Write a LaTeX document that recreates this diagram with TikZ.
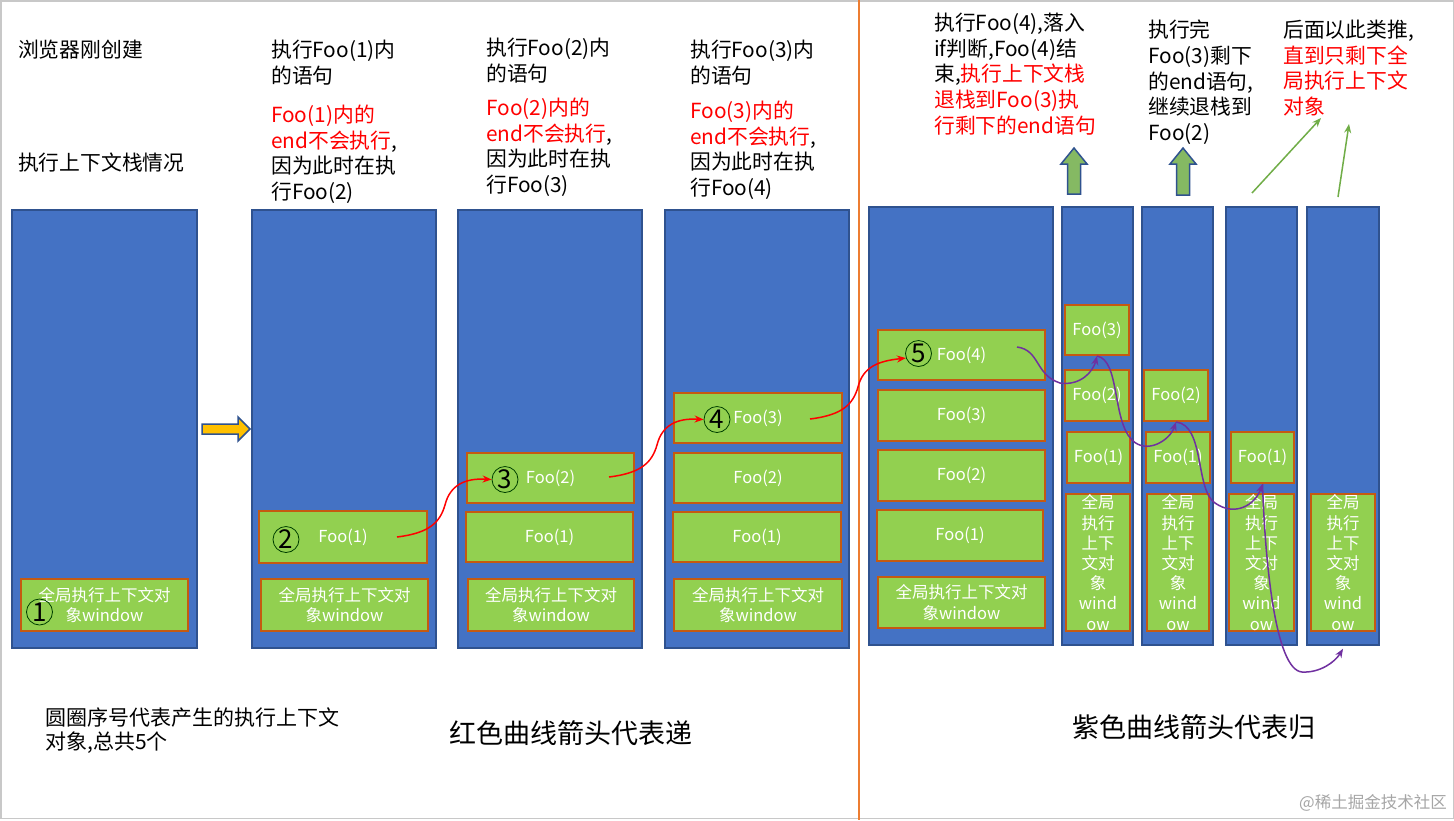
\documentclass[tikz,border=0pt]{standalone}
\usepackage{fontspec}
\setmainfont{Noto Sans CJK SC}
\usetikzlibrary{arrows.meta}
\definecolor{stackblue}{HTML}{4472C4}
\definecolor{stackedge}{HTML}{2F528F}
\definecolor{ctxgreen}{HTML}{92D050}
\definecolor{ctxedge}{HTML}{C55A11}
\definecolor{purp}{HTML}{7030A0}
\definecolor{lgreen}{HTML}{70AD47}
\definecolor{sepline}{HTML}{ED7D31}
\definecolor{gold}{HTML}{FFC000}
\definecolor{wmgray}{HTML}{A6A6A6}
\definecolor{framegray}{HTML}{C8C8C8}
\newcommand\gwide{全局执行上下文对\\象window}
\newcommand\gnarrow{全局\\执行\\上下\\文对\\象\\wind\\ow}
\begin{document}
\begin{tikzpicture}[x=1pt,y=-1pt,
  stk/.style n args={2}{draw=stackedge, fill=stackblue, line width=1.5pt, inner sep=0pt, minimum width=#1pt, minimum height=#2pt},
  ctx/.style n args={2}{draw=ctxedge, fill=ctxgreen, line width=2pt, inner sep=0pt, minimum width=#1pt, minimum height=#2pt, text=white, align=center, font=\fontsize{16.5}{20.2}\selectfont},
  num/.style={circle, draw=black!75!green, line width=0.8pt, minimum size=26pt, inner sep=0pt, font=\fontsize{26}{26}\selectfont},
  redarr/.style={draw=red, line width=1.5pt, -{Stealth[length=9pt,width=7pt]}},
  purarr/.style={draw=purp, line width=1.5pt, -{Stealth[length=9pt,width=7pt]}},
  garr/.style={draw=lgreen, line width=1.5pt, -{Stealth[length=9pt,width=7pt]}},
  blockup/.style={fill=lgreen!85!white, draw=stackedge, line width=1.5pt, line join=miter},
  lbl/.style={anchor=north west, inner sep=0pt, align=left, font=\fontsize{20.8}{25.6}\selectfont},
]
\useasboundingbox (0,0) rectangle (1454,820);
\fill[white] (0,0) rectangle (1454,820);
\draw[framegray, line width=1.5pt] (0.75,0.75) rectangle (1453.25,818.5);
\draw[sepline, line width=2.5pt] (859,0) -- (859,820);

% stacks
\node[stk={185}{438}] (s1) at (104.5,429) {};
\node[stk={184}{438}] (s2) at (344,429) {};
\node[stk={184}{438}] (s3) at (550,429) {};
\node[stk={184}{438}] (s4) at (757,429) {};
\node[stk={184}{438}] (s5) at (961,426) {};
\node[stk={71}{438}] (s6) at (1097.5,426) {};
\node[stk={71}{438}] (s7) at (1177.5,426) {};
\node[stk={71}{438}] (s8) at (1261.5,426) {};
\node[stk={72}{438}] (s9) at (1343,426) {};

% contexts
\node[ctx={167}{52}] (g1) at (104.5,605) {\gwide};
\node[ctx={168}{52}] (f21) at (343,537) {Foo(1)};
\node[ctx={167}{52}] (g2) at (344.5,605) {\gwide};
\node[ctx={167}{50}] (f32) at (550.5,478) {Foo(2)};
\node[ctx={167}{50}] (f31) at (549.5,537) {Foo(1)};
\node[ctx={166}{52}] (g3) at (551,605) {\gwide};
\node[ctx={168}{50}] (f43) at (758,418) {Foo(3)};
\node[ctx={168}{50}] (f42) at (758,478) {Foo(2)};
\node[ctx={168}{50}] (f41) at (757,537) {Foo(1)};
\node[ctx={168}{52}] (g4) at (758,605) {\gwide};
\node[ctx={167}{50}] (f54) at (961.5,355) {Foo(4)};
\node[ctx={167}{51}] (f53) at (961.5,415.5) {Foo(3)};
\node[ctx={167}{51}] (f52) at (961.5,475.5) {Foo(2)};
\node[ctx={166}{51}] (f51) at (960,535.5) {Foo(1)};
\node[ctx={167}{51}] (g5) at (961.5,602.5) {\gwide};
\node[ctx={64}{50}] (f63) at (1097,330) {Foo(3)};
\node[ctx={64}{51}] (f62) at (1097,395.5) {Foo(2)};
\node[ctx={63}{51}] (f61) at (1098.5,457.5) {Foo(1)};
\node[ctx={64}{137}] (g6) at (1098,562.5) {\gnarrow};
\node[ctx={64}{51}] (f72) at (1176,395.5) {Foo(2)};
\node[ctx={64}{51}] (f71) at (1178,457.5) {Foo(1)};
\node[ctx={62}{137}] (g7) at (1178,562.5) {\gnarrow};
\node[ctx={63}{51}] (f81) at (1262.5,457.5) {Foo(1)};
\node[ctx={65}{137}] (g8) at (1261.5,562.5) {\gnarrow};
\node[ctx={64}{137}] (g9) at (1343,562.5) {\gnarrow};

% circled numbers
\node[num] (n1) at (39.5,612) {1};
\node[num] (n2) at (286,539.5) {2};
\node[num] (n3) at (505,479.5) {3};
\node[num] (n4) at (717,419.5) {4};
\node[num] (n5) at (918.5,353.5) {5};

% red arrows
\coordinate (r1) at (397,537);
\coordinate (r2) at (609,477);
\coordinate (r3) at (810,419);
\draw[redarr] (r1) .. controls (430,533) and (440,522) .. (445,505) .. controls (450,485) and (465,478) .. (n3.west);
\draw[redarr] (r2) .. controls (642,473) and (652,462) .. (657,445) .. controls (662,425) and (677,418) .. (n4.west);
\draw[redarr] (r3) .. controls (843,415) and (853,404) .. (858,387) .. controls (863,367) and (878,361) .. (n5.200);

% purple arrows
\coordinate (p0) at (1017,347);
\draw[purarr] (p0) .. controls (1040,350) and (1035,375) .. (1060,383) .. controls (1080,386) and (1093,372) .. (f63.south);
\draw[purarr] (f63.south) .. controls (1120,360) and (1112,420) .. (1132,440) .. controls (1147,455) and (1170,440) .. (f72.south);
\draw[purarr] (f72.south) .. controls (1205,425) and (1195,490) .. (1215,503) .. controls (1235,517) and (1255,505) .. (f81.south);
\draw[purarr] (f81.south) .. controls (1265,560) and (1275,670) .. (1302,672) .. controls (1320,673) and (1335,662) .. ([yshift=-3pt]s9.south);

% thin green arrows
\coordinate (ga1) at (1252,193);
\coordinate (ga1e) at (1321,118);
\coordinate (ga2) at (1338,197);
\coordinate (ga2e) at (1349,124);
\draw[garr] (ga1) -- (ga1e);
\draw[garr] (ga2) -- (ga2e);

% block arrows
\foreach \cx/\bt in {1074/194,1183/195}{
  \draw[blockup] (\cx,148) -- (\cx+13,164) -- (\cx+6.5,164) -- (\cx+6.5,\bt) -- (\cx-6.5,\bt) -- (\cx-6.5,164) -- (\cx-13,164) -- cycle;
}
\draw[fill=gold, draw=stackedge, line width=1.5pt] (202,424) -- (238,424) -- (238,417) -- (250,429) -- (238,441) -- (238,434) -- (202,434) -- cycle;

% texts
\node[lbl] (t0a) at (18,40) {浏览器刚创建};
\node[lbl] (t0b) at (18,153) {执行上下文栈情况};
\node[lbl] (t2a) at (271,40) {执行Foo(1)内\\的语句};
\node[lbl] (t2b) at (271,105) {\textcolor{red}{Foo(1)内的}\\\textcolor{red}{end不会执行},\\因为此时在执\\行Foo(2)};
\node[lbl] (t3a) at (486,38) {执行Foo(2)内\\的语句};
\node[lbl] (t3b) at (486,98) {\textcolor{red}{Foo(2)内的}\\\textcolor{red}{end不会执行},\\因为此时在执\\行Foo(3)};
\node[lbl] (t4a) at (690,40) {执行Foo(3)内\\的语句};
\node[lbl] (t4b) at (690,101) {\textcolor{red}{Foo(3)内的}\\\textcolor{red}{end不会执行},\\因为此时在执\\行Foo(4)};
\node[lbl] (t5) at (934,13) {执行Foo(4),落入\\if判断,Foo(4)结\\束,\textcolor{red}{执行上下文栈}\\\textcolor{red}{退栈到Foo(3)执}\\\textcolor{red}{行剩下的end语句}};
\node[lbl] (t6) at (1148,20) {执行完\\Foo(3)剩下\\的end语句,\\继续退栈到\\Foo(2)};
\node[lbl] (t7) at (1283,20) {后面以此类推,\\\textcolor{red}{直到只剩下全}\\\textcolor{red}{局执行上下文}\\\textcolor{red}{对象}};

\node[anchor=north west, inner sep=0pt, align=left, font=\fontsize{21}{24.5}\selectfont] (b1) at (45,707) {圆圈序号代表产生的执行上下文\\对象,总共5个};
\node[inner sep=0pt, font=\fontsize{27}{30}\selectfont] (b2) at (571,733) {红色曲线箭头代表递};
\node[inner sep=0pt, font=\fontsize{27}{30}\selectfont] (b3) at (1194,727) {紫色曲线箭头代表归};
\node[anchor=east, inner sep=0pt, text=wmgray, font=\fontsize{16.5}{20}\selectfont] (wm) at (1447,803) {@稀土掘金技术社区};
\end{tikzpicture}
\end{document}
